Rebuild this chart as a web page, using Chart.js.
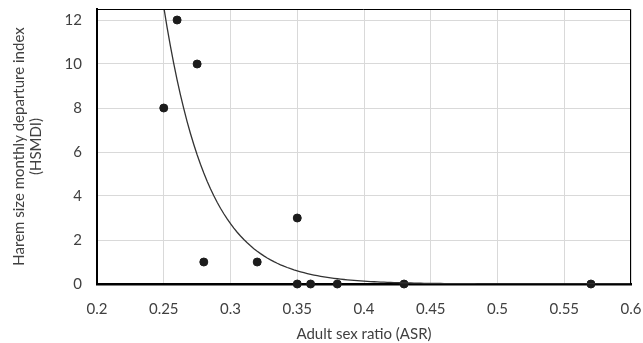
<!DOCTYPE html>
<html>
<head>
<meta charset="utf-8">
<script src="https://cdn.jsdelivr.net/npm/chart.js@4"></script>
<style>
  html, body { margin: 0; padding: 0; background: #fff; }
  #wrap { width: 643px; height: 343px; }
</style>
</head>
<body>
<div id="wrap"><canvas id="myChart" width="643" height="343"></canvas></div>
<script>
// Observed points: adult sex ratio vs. harem size departure index
const asr   = [0.25, 0.26, 0.275, 0.28, 0.32, 0.35, 0.35, 0.36, 0.38, 0.43, 0.57];
const hsmdi = [8,    12,   10,    1,    1,    3,    0,    0,    0,    0,    0];

// Axis ticks
const xTicks = [0.2, 0.25, 0.3, 0.35, 0.4, 0.45, 0.5, 0.55, 0.6];
const yTicks = [0, 2, 4, 6, 8, 10, 12];

// Exponential trend line y = a * exp(b * x), coefficients
const trendA = 25800;
const trendB = -30.5;
const trendX = [];
for (let x = 0.245; x <= 0.6001; x += 0.0025) trendX.push(x);

let ctx = document.getElementById('myChart');

// Thin frame on top and right of the plot area
const frame = {
  id: 'frame',
  afterDraw(chart) {
    const a = chart.chartArea;
    const c = chart.ctx;
    c.save();
    c.strokeStyle = '#000';
    c.lineWidth = 1;
    c.beginPath();
    c.moveTo(a.left, a.top + 0.5);
    c.lineTo(a.right - 0.5, a.top + 0.5);
    c.lineTo(a.right - 0.5, a.bottom);
    c.stroke();
    c.restore();
  }
};

let font = { family: 'Lato, "Open Sans", sans-serif', size: 15 };
let titleFont = { family: 'Lato, "Open Sans", sans-serif', size: 15, lineHeight: 1.12 };

let myChart = new Chart(ctx, {
  type: 'scatter',
  data: {
    datasets: [{
      label: 'Trend',
      data: trendX.map(x => ({ x: x, y: trendA * Math.exp(trendB * x) })),
      showLine: true,
      pointRadius: 0,
      borderColor: '#333',
      borderWidth: 1.3,
      clip: 0
    }, {
      label: 'HSMDI',
      data: asr.map((x, i) => ({ x: x, y: hsmdi[i] })),
      pointRadius: 4,
      borderWidth: 1,
      pointBackgroundColor: '#1c1c1c',
      pointBorderColor: '#1c1c1c',
      clip: false
    }]
  },
  options: {
    responsive: false,
    animation: false,
    layout: { padding: { top: 9, right: 12, left: 0, bottom: 0 } },
    plugins: { legend: { display: false }, tooltip: { enabled: false } },
    scales: {
      x: {
        type: 'linear',
        min: 0.2,
        max: 0.6,
        afterBuildTicks: s => { s.ticks = xTicks.map(v => ({ value: v })); },
        afterFit: s => { s.height = 59; s.paddingLeft = 0; s.paddingRight = 0; },
        ticks: { color: '#404040', font: font, padding: 16, maxRotation: 0,
                 callback: v => String(v) },
        grid: { color: '#d9d9d9', lineWidth: 1, drawTicks: false },
        border: { color: '#000', width: 2.5 },
        title: { display: true, text: 'Adult sex ratio (ASR)', color: '#404040',
                 font: font, padding: { top: 4, bottom: 0 } }
      },
      y: {
        min: 0,
        max: 12.5,
        afterBuildTicks: s => { s.ticks = yTicks.map(v => ({ value: v })); },
        afterFit: s => { s.width = 97; s.paddingTop = 0; s.paddingBottom = 0; },
        ticks: { color: '#404040', font: font, padding: 15 },
        grid: { color: '#d9d9d9', lineWidth: 1, drawTicks: false },
        border: { color: '#000', width: 2 },
        title: { display: true, text: ['Harem size monthly departure index', '(HSMDI)'],
                 color: '#404040', font: titleFont, padding: { top: 11, bottom: 0 } }
      }
    }
  },
  plugins: [frame]
});
</script>
</body>
</html>
